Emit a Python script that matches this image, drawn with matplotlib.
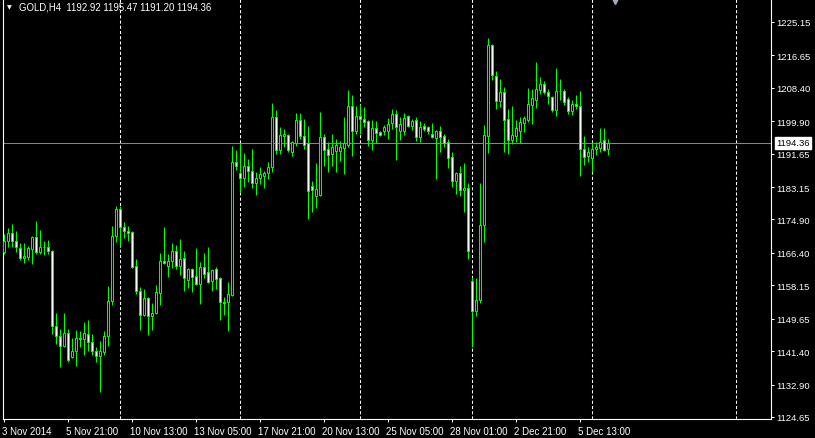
import numpy as np
import matplotlib.pyplot as plt
from matplotlib.transforms import ScaledTranslation, blended_transform_factory

# GOLD H4 bars
opens = [1166.7, 1169.4, 1171.4, 1169.4, 1167.6, 1165.1, 1165.3, 1167.4, 1170.4, 1166.6,
         1167.9, 1167.9, 1166.9, 1147.8, 1145.2, 1142.7, 1146.0, 1139.9, 1141.4, 1144.7,
         1144.5, 1145.8, 1143.7, 1141.4, 1140.1, 1141.2, 1145.2, 1154.1, 1170.7, 1177.6,
         1173.0, 1172.0, 1171.7, 1163.0, 1156.7, 1150.6, 1154.9, 1150.3, 1151.1, 1156.2,
         1164.3, 1163.1, 1164.3, 1166.9, 1163.0, 1165.1, 1159.5, 1162.3, 1160.5, 1158.5,
         1162.8, 1161.5, 1159.2, 1162.3, 1160.0, 1153.9, 1153.9, 1155.7, 1189.5, 1186.7,
         1185.4, 1188.5, 1187.2, 1184.2, 1185.4, 1186.0, 1186.7, 1188.2, 1201.0, 1192.6,
         1196.1, 1196.4, 1192.1, 1194.3, 1200.2, 1196.1, 1194.3, 1183.4, 1180.9, 1181.1,
         1195.9, 1192.8, 1191.6, 1192.3, 1192.3, 1193.1, 1193.8, 1203.8, 1197.4, 1201.2,
         1200.5, 1199.9, 1195.1, 1198.2, 1197.1, 1197.4, 1197.4, 1199.4, 1201.7, 1197.4,
         1197.4, 1201.2, 1198.7, 1200.2, 1195.9, 1198.7, 1198.4, 1196.6, 1195.6, 1197.4,
         1196.1, 1194.6, 1190.8, 1184.7, 1186.7, 1182.4, 1182.9, 1159.2, 1151.6, 1154.4,
         1173.5, 1196.1, 1219.3, 1211.4, 1205.0, 1207.3, 1200.5, 1195.1, 1196.1, 1197.4,
         1199.4, 1200.2, 1204.0, 1205.3, 1207.8, 1209.4, 1207.3, 1206.1, 1202.8, 1207.6,
         1207.6, 1205.5, 1202.5, 1204.3, 1203.8, 1192.8, 1191.0, 1190.5, 1192.8, 1193.1,
         1195.1, 1192.92]
highs = [1171.2, 1172.7, 1173.7, 1172.0, 1168.9, 1168.9, 1168.1, 1170.6, 1174.5, 1172.2,
         1169.4, 1169.7, 1167.1, 1151.1, 1147.0, 1151.1, 1147.0, 1144.7, 1146.8, 1146.5,
         1148.8, 1149.3, 1145.7, 1142.4, 1144.0, 1146.5, 1158.0, 1173.2, 1178.3, 1178.3,
         1174.3, 1173.2, 1171.9, 1164.8, 1157.7, 1157.2, 1155.2, 1153.6, 1158.2, 1166.4,
         1173.0, 1166.1, 1168.9, 1168.4, 1169.9, 1166.9, 1162.5, 1162.5, 1167.6, 1164.1,
         1166.4, 1167.9, 1162.3, 1162.8, 1160.3, 1155.2, 1159.0, 1193.6, 1192.6, 1194.3,
         1191.8, 1190.3, 1192.8, 1187.0, 1188.2, 1187.2, 1189.5, 1204.5, 1202.8, 1198.4,
         1197.9, 1196.6, 1194.9, 1202.0, 1202.0, 1200.5, 1198.7, 1184.7, 1189.3, 1202.2,
         1196.6, 1194.6, 1196.6, 1195.4, 1194.9, 1201.0, 1207.8, 1206.6, 1203.8, 1204.3,
         1203.5, 1200.1, 1200.2, 1199.9, 1197.4, 1198.9, 1200.7, 1203.0, 1202.8, 1201.0,
         1202.0, 1201.5, 1200.5, 1201.0, 1199.9, 1199.4, 1198.7, 1199.4, 1197.6, 1198.7,
         1196.6, 1195.4, 1192.1, 1187.0, 1188.5, 1189.3, 1184.2, 1160.3, 1160.0, 1184.2,
         1198.9, 1221.1, 1219.5, 1212.7, 1210.6, 1208.6, 1203.0, 1203.8, 1200.2, 1201.0,
         1201.2, 1208.3, 1208.1, 1215.0, 1211.2, 1210.1, 1208.1, 1206.3, 1213.4, 1210.6,
         1208.1, 1206.1, 1205.3, 1206.6, 1207.6, 1196.1, 1193.3, 1194.6, 1194.6, 1198.2,
         1198.2, 1195.47]
lows = [1166.1, 1167.9, 1167.9, 1166.6, 1164.6, 1163.8, 1164.6, 1163.6, 1166.1, 1166.1,
        1165.9, 1166.1, 1145.7, 1143.2, 1137.3, 1142.5, 1138.6, 1139.6, 1137.6, 1142.4,
        1140.4, 1141.4, 1140.4, 1138.6, 1131.0, 1140.4, 1142.7, 1153.1, 1169.2, 1168.1,
        1170.2, 1169.4, 1162.6, 1155.9, 1146.8, 1150.3, 1145.5, 1146.8, 1150.8, 1153.1,
        1163.6, 1160.3, 1162.5, 1162.3, 1160.8, 1156.7, 1157.5, 1156.4, 1158.3, 1153.4,
        1160.0, 1158.8, 1156.7, 1157.2, 1149.3, 1150.6, 1146.5, 1155.4, 1187.5, 1181.9,
        1183.2, 1184.4, 1182.9, 1181.1, 1183.9, 1182.9, 1185.2, 1187.0, 1191.6, 1191.6,
        1193.3, 1192.1, 1191.0, 1193.6, 1195.4, 1192.8, 1175.0, 1176.8, 1177.8, 1180.9,
        1188.5, 1187.0, 1188.5, 1187.0, 1189.8, 1186.5, 1193.3, 1191.0, 1196.6, 1196.6,
        1198.4, 1193.6, 1192.6, 1194.3, 1196.1, 1196.4, 1195.4, 1197.9, 1190.0, 1195.1,
        1196.4, 1198.4, 1197.7, 1194.9, 1194.6, 1197.4, 1196.6, 1195.6, 1185.2, 1192.1,
        1193.3, 1188.0, 1183.2, 1181.4, 1180.9, 1176.8, 1164.8, 1142.4, 1150.3, 1153.6,
        1169.2, 1191.8, 1210.4, 1203.0, 1203.5, 1192.1, 1191.6, 1194.1, 1194.6, 1194.3,
        1197.1, 1199.7, 1199.2, 1203.3, 1206.8, 1206.8, 1204.3, 1202.2, 1201.2, 1205.3,
        1204.0, 1201.7, 1201.5, 1203.0, 1186.0, 1188.8, 1189.5, 1187.0, 1191.3, 1192.1,
        1192.3, 1191.20]
closes = [1169.5, 1171.4, 1169.4, 1167.9, 1165.1, 1165.6, 1167.6, 1170.4, 1166.6, 1167.9,
          1167.8, 1166.9, 1147.8, 1145.2, 1142.7, 1146.0, 1139.1, 1141.4, 1144.7, 1144.5,
          1146.0, 1143.7, 1141.4, 1140.1, 1141.4, 1145.2, 1154.1, 1170.7, 1177.6, 1173.0,
          1172.0, 1171.4, 1162.8, 1156.7, 1150.6, 1154.9, 1150.3, 1151.1, 1156.4, 1164.3,
          1163.8, 1164.3, 1166.9, 1163.0, 1164.8, 1160.0, 1162.3, 1160.3, 1158.5, 1162.8,
          1161.0, 1159.0, 1162.0, 1159.7, 1153.9, 1153.6, 1155.9, 1189.5, 1188.5, 1185.4,
          1188.5, 1187.2, 1184.2, 1185.4, 1186.5, 1186.7, 1188.2, 1201.0, 1192.6, 1196.4,
          1196.6, 1192.6, 1194.6, 1200.2, 1196.1, 1193.8, 1182.1, 1182.4, 1182.6, 1195.9,
          1192.6, 1191.3, 1193.3, 1193.8, 1193.3, 1194.3, 1203.8, 1197.4, 1201.2, 1200.5,
          1199.7, 1195.1, 1198.2, 1196.9, 1196.4, 1198.4, 1199.2, 1201.7, 1198.4, 1199.2,
          1200.7, 1198.7, 1199.9, 1195.9, 1198.4, 1197.9, 1197.4, 1195.9, 1197.4, 1195.9,
          1194.3, 1190.5, 1184.7, 1186.7, 1182.4, 1182.9, 1166.9, 1151.6, 1154.4, 1173.5,
          1196.4, 1219.3, 1211.7, 1205.0, 1207.3, 1200.2, 1195.1, 1196.4, 1198.2, 1199.7,
          1200.7, 1204.3, 1205.8, 1208.1, 1209.4, 1207.3, 1206.3, 1202.8, 1207.6, 1207.5,
          1204.8, 1202.5, 1204.3, 1203.8, 1192.8, 1190.8, 1192.1, 1192.8, 1193.3, 1194.6,
          1192.6, 1194.36]

bid = 1194.36
header = 'GOLD,H4  1192.92 1195.47 1191.20 1194.36'

price_ticks = ['1124.65', '1132.90', '1141.40', '1149.65', '1158.15', '1166.40', '1174.90',
               '1183.15', '1191.65', '1199.90', '1208.40', '1216.65', '1225.15']
time_tick_bars = [0, 16, 32, 48, 64, 80, 96, 112, 128, 144]
time_labels = ['3 Nov 2014', '5 Nov 21:00', '10 Nov 13:00', '13 Nov 05:00', '17 Nov 21:00',
               '20 Nov 13:00', '25 Nov 05:00', '28 Nov 01:00', '2 Dec 21:00', '5 Dec 13:00']
week_start_bars = [29, 59, 89, 117, 147, 183]

GREEN = '#00ff00'
FONT = 'Liberation Sans'

o = np.array(opens)
c = np.array(closes)
h = np.maximum(np.array(highs), np.maximum(o, c))
l = np.minimum(np.array(lows), np.minimum(o, c))
x = np.arange(len(o))

fig = plt.figure(figsize=(8.15, 4.39), dpi=100, facecolor='black')
ax = fig.add_axes([3 / 815, 19 / 439, 768 / 815, 420 / 439])
ax.set_facecolor('black')
ax.set_xlim(-0.25, 191.75)
ax.set_ylim(1124.13, 1231.0)

# period separators + bid line
for b in week_start_bars:
    ax.axvline(b, color='white', lw=0.75, linestyle=(0, (3, 2)), zorder=1)
ax.axhline(bid, color='#778899', lw=0.75, zorder=2)

# candles: bull body black, bear body white, green outline
fills = np.where(c >= o, 'black', 'white')
ax.vlines(x, l, h, color=GREEN, lw=0.75, zorder=3)
ax.bar(x, np.abs(c - o), bottom=np.minimum(o, c), width=0.5, color=fills,
       edgecolor=GREEN, linewidth=0.75, zorder=4)

# axes frame
for side in ['left', 'bottom', 'right']:
    ax.spines[side].set_color('white')
    ax.spines[side].set_linewidth(0.8)
ax.spines['top'].set_visible(False)

ax.yaxis.tick_right()
ax.set_yticks([float(t) for t in price_ticks])
ax.set_yticklabels(price_ticks)
ax.tick_params(axis='y', colors='white', length=2.2, width=0.75, pad=1.8,
               labelsize=6.8, labelcolor='white')

ax.set_xticks(time_tick_bars)
ax.set_xticklabels(time_labels, ha='left')
ax.tick_params(axis='x', colors='white', length=2.2, width=0.75, pad=2.5,
               labelsize=7, labelcolor='white')
shift = ScaledTranslation(-2 / 100, 0, fig.dpi_scale_trans)
for lbl in ax.get_xticklabels():
    lbl.set_transform(lbl.get_transform() + shift)
for lbl in ax.get_xticklabels() + ax.get_yticklabels():
    lbl.set_fontfamily(FONT)

# bid price box on the price scale
trans = blended_transform_factory(ax.transAxes, ax.transData)
ax.text(1.0, bid, '1194.36', transform=trans + ScaledTranslation(5 / 100, 0, fig.dpi_scale_trans),
        ha='left', va='center', color='black', fontsize=6.8, family=FONT, zorder=6,
        bbox=dict(boxstyle='square,pad=0.12', fc='white', ec='white'), clip_on=False)

# chart header
fig.text(7 / 815, 1 - 8 / 439, '\u25bc', color='white', fontsize=4.5, family='DejaVu Sans', va='center')
fig.text(19 / 815, 1 - 7.5 / 439, header, color='white', fontsize=6.9, family=FONT, va='center')

# shift marker at top
ax.plot([(615 - 3) / 768], [1.0], transform=ax.transAxes, marker='v', ms=7,
        color='#a4aeb8', clip_on=False, zorder=5)

fig.savefig('out.png', dpi=100, facecolor='black')
